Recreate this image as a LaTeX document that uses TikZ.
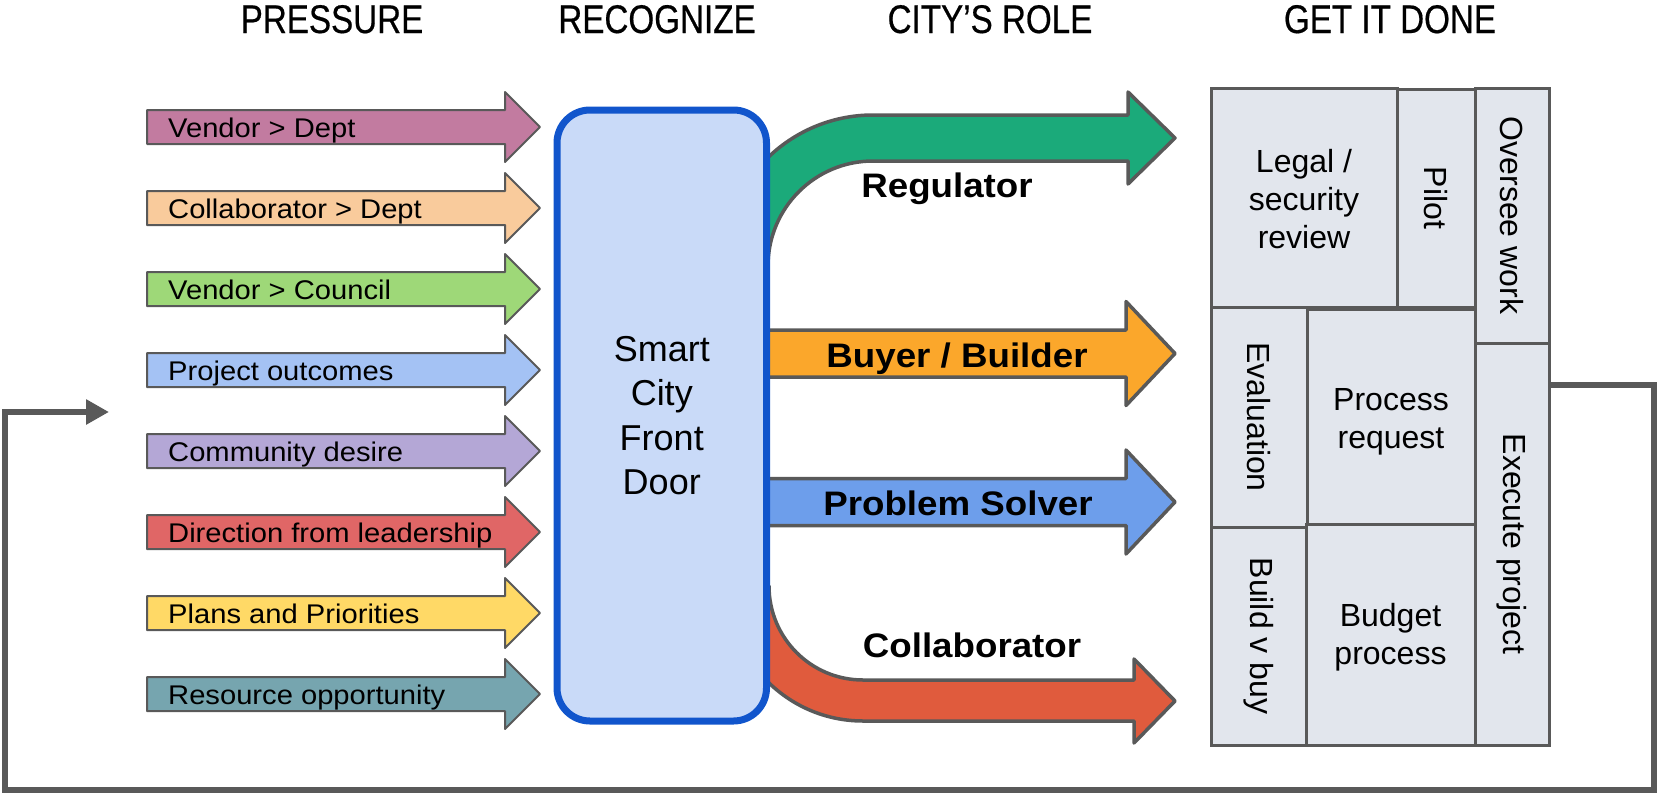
\documentclass[tikz,border=0pt]{standalone}
\usepackage{fontspec}
\setmainfont{Liberation Sans}
\newfontfamily\hdrfont[FakeStretch=0.83,FakeBold=0.5]{Liberation Sans}
\newfontfamily\lblfont[FakeStretch=1.08]{Liberation Sans}
\usetikzlibrary{arrows.meta}
\definecolor{gline}{HTML}{595959}
\definecolor{pA}{HTML}{C27BA0}
\definecolor{pB}{HTML}{F9CB9C}
\definecolor{pC}{HTML}{9ED878}
\definecolor{pD}{HTML}{A4C2F4}
\definecolor{pE}{HTML}{B4A7D6}
\definecolor{pF}{HTML}{E06666}
\definecolor{pG}{HTML}{FFD966}
\definecolor{pH}{HTML}{76A5AF}
\definecolor{rgreen}{HTML}{1BAA7A}
\definecolor{rorange}{HTML}{FBA72B}
\definecolor{rblue}{HTML}{6D9EEB}
\definecolor{rred}{HTML}{E05B3D}
\definecolor{doorfill}{HTML}{C9DAF8}
\definecolor{doorline}{HTML}{1155CC}
\definecolor{gfill}{HTML}{E2E6ED}
\tikzset{
  pshape/.style={draw=gline, line width=2pt, line join=round},
  rshape/.style={draw=gline, line width=3.5pt, line join=round},
  plabel/.style={inner sep=0pt, font=\lblfont\fontsize{27}{32}\selectfont},
  rolelabel/.style={inner sep=0pt, font=\lblfont\bfseries\fontsize{34}{40}\selectfont},
  hdr/.style={inner sep=0pt, font=\hdrfont\fontsize{40}{46}\selectfont},
  cellbox/.style={draw=gline, fill=gfill, line width=3pt, inner sep=0pt},
  celltext/.style={inner sep=0pt, align=center, font=\fontsize{32}{38}\selectfont},
  doorbox/.style={draw=doorline, fill=doorfill, line width=7pt, rounded corners=33pt,
     inner sep=0pt, align=center, font=\fontsize{36}{44.5}\selectfont},
  fb/.style={draw=gline, line width=6.5pt, -{Triangle[length=23pt,width=24pt]}},
}
\newcommand{\pressarrow}[4]{%
  \path[pshape, fill=#2] (147,#3-17) -- (505,#3-17) -- (505,#3-35) -- (540,#3)
     -- (505,#3+35) -- (505,#3+17) -- (147,#3+17) -- cycle;
  \node[plabel, anchor=base west] (#1) at (168,#3+10) {#4};
}
\newcommand{\rolearrow}[5]{%
  \path[rshape, fill=#1] (740,#2-#3) -- (#5,#2-#3) -- (#5,#2-#4) -- (1175,#2)
     -- (#5,#2+#4) -- (#5,#2+#3) -- (740,#2+#3) -- cycle;
}
\newcommand{\gridcell}[8]{%
  \node[cellbox, minimum width=#4pt, minimum height=#5pt] (#1) at (#2,#3) {};
  \node[celltext, rotate=#7] (#1t) at ([yshift=-#8pt]#1.center) {#6};
}
\begin{document}
\begin{tikzpicture}[x=1pt, y=-1pt]
\useasboundingbox (0,0) rectangle (1657,795);

% headers
\node[hdr, anchor=base] (h1) at (332,33) {PRESSURE};
\node[hdr, anchor=base] (h2) at (657,33) {RECOGNIZE};
\node[hdr, anchor=base] (h3) at (990,33) {CITY’S ROLE};
\node[hdr, anchor=base] (h4) at (1390,33) {GET IT DONE};

% pressure arrows
\pressarrow{p1}{pA}{127}{Vendor > Dept}
\pressarrow{p2}{pB}{208}{Collaborator > Dept}
\pressarrow{p3}{pC}{289}{Vendor > Council}
\pressarrow{p4}{pD}{370}{Project outcomes}
\pressarrow{p5}{pE}{451}{Community desire}
\pressarrow{p6}{pF}{532}{Direction from leadership}
\pressarrow{p7}{pG}{613}{Plans and Priorities}
\pressarrow{p8}{pH}{694}{Resource opportunity}

% curved role arrows (behind the door box)
\path[rshape, fill=rgreen] (722,266) .. controls (722,182.6) and (789.6,115) .. (873,115)
  -- (1128,115) -- (1128,92) -- (1175,138) -- (1128,184) -- (1128,161) -- (873,161)
  .. controls (815,161) and (768,208) .. (768,266) -- cycle;
\path[rshape, fill=rred] (728,586) .. controls (728,660.6) and (788.4,721) .. (863,721)
  -- (1134,721) -- (1134,743) -- (1175,701) -- (1134,659) -- (1134,680) -- (863,680)
  .. controls (811,680) and (769,638) .. (769,586) -- cycle;

% straight role arrows
\rolearrow{rorange}{353.5}{23.5}{52}{1126}
\rolearrow{rblue}{502}{23.5}{52}{1126}

% door box
\node[doorbox, minimum width=209.5pt, minimum height=611pt] (door) at (661.75,415.5)
  {Smart\\City\\Front\\Door};

% role labels
\node[rolelabel, anchor=base] (lreg) at (947,197) {Regulator};
\node[rolelabel, anchor=base] (lbuy) at (957,367) {Buyer / Builder};
\node[rolelabel, anchor=base] (lprob) at (958,515) {Problem Solver};
\node[rolelabel, anchor=base] (lcol) at (972,657) {Collaborator};

% get it done grid
\gridcell{legal}{1304}{197.5}{186}{219}{Legal /\\security\\review}{0}{2}
\gridcell{pilot}{1436}{198}{78}{218}{Pilot}{-90}{0}
\gridcell{oversee}{1512}{215.5}{74}{255}{Oversee work}{-90}{0}
\gridcell{eval}{1259}{417}{96}{220}{Evaluation}{-90}{0}
\gridcell{process}{1391}{416.5}{168}{215}{Process\\request}{0}{5}
\gridcell{execute}{1512}{544}{74}{402}{Execute project}{-90}{0}
\gridcell{build}{1258.5}{636}{95}{218}{Build v buy}{-90}{0}
\gridcell{budget}{1390.5}{634.5}{169}{221}{Budget\\process}{0}{3}

% feedback loop
\coordinate (fbs) at (1551,385);
\coordinate (fbe) at (109,412);
\draw[fb] (fbs) -| (1654,790) -| (5,412) -- (fbe);
\end{tikzpicture}
\end{document}
